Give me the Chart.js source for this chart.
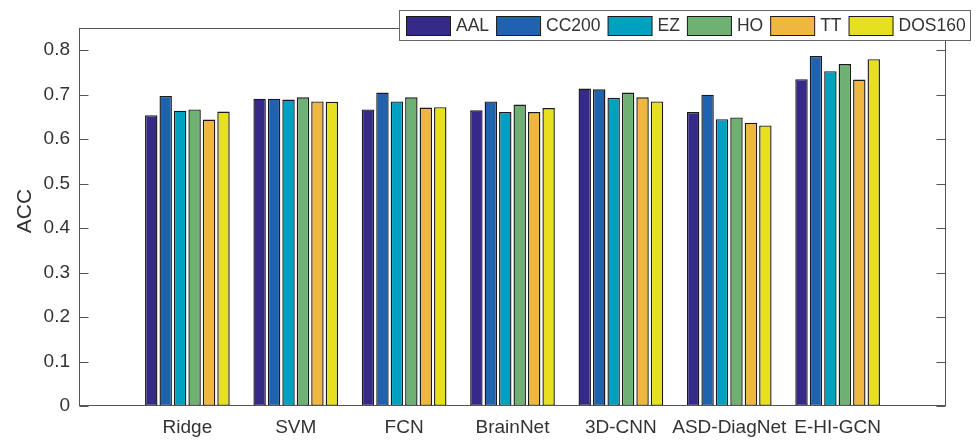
<!DOCTYPE html>
<html>
<head>
<meta charset="utf-8">
<script src="https://cdn.jsdelivr.net/npm/chart.js@4.4.1/dist/chart.umd.min.js"></script>
<style>
  body { margin: 0; background: #fff; }
  #chart { width: 976px; height: 440px; }
</style>
</head>
<body>
<div id="chart"><canvas id="myChart" width="976" height="440"></canvas></div>
<script>
// methods on the x axis
const methods = ['Ridge', 'SVM', 'FCN', 'BrainNet', '3D-CNN', 'ASD-DiagNet', 'E-HI-GCN'];

// ACC per atlas
const aal    = [0.654, 0.691, 0.667, 0.665, 0.714, 0.661, 0.735];
const cc200  = [0.697, 0.691, 0.705, 0.685, 0.712, 0.700, 0.787];
const ez     = [0.664, 0.689, 0.685, 0.661, 0.693, 0.645, 0.753];
const ho     = [0.667, 0.694, 0.694, 0.678, 0.705, 0.649, 0.769];
const tt     = [0.644, 0.685, 0.671, 0.661, 0.694, 0.637, 0.734];
const dos160 = [0.662, 0.684, 0.672, 0.670, 0.685, 0.631, 0.780];

const yTicks = [0, 0.1, 0.2, 0.3, 0.4, 0.5, 0.6, 0.7, 0.8];

const atlasNames = ['AAL', 'CC200', 'EZ', 'HO', 'TT', 'DOS160'];
const atlasValues = [aal, cc200, ez, ho, tt, dos160];
const atlasColors = ['#352a87', '#1f62ae', '#00a0c0', '#6fb073', '#efb640', '#e6e020'];

const FONT = '"Liberation Sans", Arial, Helvetica, sans-serif';
const TEXT = '#333333';
const AXIS = '#555555';

// empty slot at each end, like xlim [0 8]
const labels = [''].concat(methods, ['']);
const pad = arr => [null].concat(arr, [null]);

const datasets = atlasNames.map((name, i) => ({
    label: name,
    data: pad(atlasValues[i]),
    backgroundColor: atlasColors[i],
    borderColor: '#1a1a1a',
    borderWidth: 1.4,
    borderSkipped: false,
    categoryPercentage: 0.8,
    barPercentage: 0.86
}));

// box, inner tick marks, y title and legend (matlab style)
const matlabFrame = {
    id: 'matlabFrame',
    afterDraw(chart) {
        const ctx = chart.ctx;
        const a = chart.chartArea;
        const y = chart.scales.y;
        const l = Math.round(a.left) + 0.5, r = Math.round(a.right) - 0.5;
        const t = Math.round(a.top) + 0.5, b = Math.round(a.bottom) - 0.5;

        ctx.save();
        ctx.strokeStyle = AXIS;
        ctx.lineWidth = 1;
        ctx.strokeRect(l, t, r - l, b - t);
        ctx.beginPath();
        yTicks.forEach(v => {
            const py = Math.round(y.getPixelForValue(v)) + 0.5;
            ctx.moveTo(l, py); ctx.lineTo(l + 9, py);
            ctx.moveTo(r, py); ctx.lineTo(r - 9, py);
        });
        ctx.stroke();

        // y title
        ctx.save();
        ctx.translate(25, 211);
        ctx.rotate(-Math.PI / 2);
        ctx.font = '21px ' + FONT;
        ctx.fillStyle = TEXT;
        ctx.textAlign = 'center';
        ctx.textBaseline = 'middle';
        ctx.fillText('ACC', 0, 0);
        ctx.restore();

        // legend
        ctx.font = '17.5px ' + FONT;
        ctx.textBaseline = 'middle';
        const boxX = 399.5, boxY = 10.5, boxH = 30;
        let x = 406;
        const items = chart.data.datasets.map(ds => {
            const it = { x: x, label: ds.label, color: ds.backgroundColor };
            x += 50 + ctx.measureText(ds.label).width + 7;
            return it;
        });
        const boxW = Math.round(x - 7 + 5 - boxX);
        ctx.fillStyle = '#fff';
        ctx.fillRect(boxX, boxY, boxW, boxH);
        ctx.strokeStyle = '#666';
        ctx.strokeRect(boxX, boxY, boxW, boxH);
        items.forEach(it => {
            ctx.fillStyle = it.color;
            ctx.fillRect(it.x + 0.5, 16.5, 44, 19);
            ctx.strokeStyle = '#1a1a1a';
            ctx.strokeRect(it.x + 0.5, 16.5, 44, 19);
            ctx.fillStyle = TEXT;
            ctx.fillText(it.label, it.x + 50, 26.5);
        });
        ctx.restore();
    }
};

new Chart(document.getElementById('myChart'), {
    type: 'bar',
    data: { labels: labels, datasets: datasets },
    options: {
        responsive: false,
        animation: false,
        layout: { padding: { top: 28, right: 30, left: 0, bottom: 0 } },
        plugins: {
            legend: { display: false },
            tooltip: { enabled: false }
        },
        scales: {
            x: {
                type: 'category',
                offset: false,
                grid: { display: false, drawTicks: false },
                border: { display: false },
                ticks: {
                    autoSkip: false,
                    maxRotation: 0,
                    padding: 10,
                    color: TEXT,
                    font: { family: FONT, size: 19 }
                },
                afterFit: s => { s.height = 34; }
            },
            y: {
                min: 0,
                max: 0.85,
                grid: { display: false, drawTicks: false },
                border: { display: false },
                ticks: {
                    stepSize: 0.1,
                    includeBounds: false,
                    padding: 9,
                    color: TEXT,
                    font: { family: FONT, size: 19 },
                    callback: v => (Math.round(v * 10) / 10).toString()
                },
                afterFit: s => { s.width = 79; }
            }
        }
    },
    plugins: [matlabFrame]
});
</script>
</body>
</html>
